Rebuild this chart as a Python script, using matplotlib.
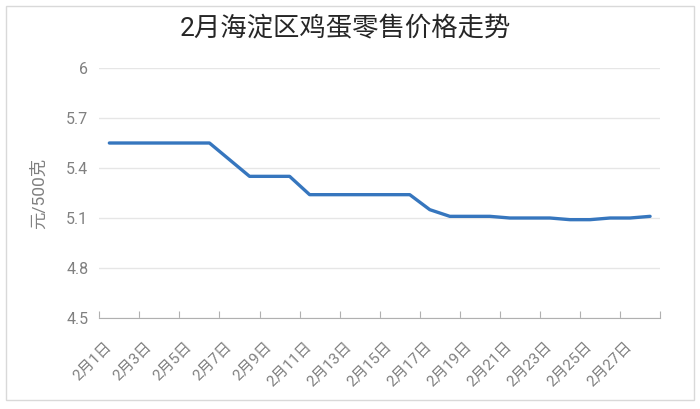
import numpy as np
import matplotlib.pyplot as plt
from matplotlib.patches import Rectangle

plt.rcParams['font.family'] = ['Roboto', 'Noto Sans CJK SC', 'DejaVu Sans']

# daily retail price of eggs, yuan per 500 g, Feb 1..28
days = [f"2月{d}日" for d in range(1, 29)]
prices = [5.55, 5.55, 5.55, 5.55, 5.55, 5.55, 5.45, 5.35, 5.35, 5.35,
          5.24, 5.24, 5.24, 5.24, 5.24, 5.24, 5.15, 5.11, 5.11, 5.11,
          5.10, 5.10, 5.10, 5.09, 5.09, 5.10, 5.10, 5.11]
yticks = [4.5, 4.8, 5.1, 5.4, 5.7, 6]
ytick_labels = ['4.5', '4.8', '5.1', '5.4', '5.7', '6']

title = "2月海淀区鸡蛋零售价格走势"
ylabel = "元/500克"

gray = '#808080'
line_color = '#3676be'

fig = plt.figure(figsize=(7, 4.09), dpi=100)
ax = fig.add_axes([0.1419, 0.2225, 0.8011, 0.6112])

x = np.arange(len(days))
ax.plot(x, prices, color=line_color, lw=2.4, solid_capstyle='round',
        solid_joinstyle='round', zorder=3)

ax.set_xlim(-0.5, len(days) - 0.5)
ax.set_ylim(4.5, 6)
ax.set_yticks(yticks)
ax.set_yticklabels(ytick_labels)
ax.grid(axis='y', color='#e6e6e6', lw=1)
ax.set_axisbelow(True)

# ticks sit on the category boundaries, labels every other category
ax.set_xticks(np.arange(-0.5, len(days), 2))
ax.set_xticklabels([])
ax.set_xticks(x[::2], minor=True)
ax.set_xticklabels(days[::2], minor=True, rotation=45, ha='right', va='center',
                   rotation_mode='anchor', color=gray, fontsize=11)
ax.tick_params(axis='x', which='major', direction='in', length=5, color='#b0b0b0')
ax.tick_params(axis='x', which='minor', length=0, pad=19)
ax.tick_params(axis='y', length=0, pad=8, labelcolor=gray, labelsize=11.5)

for s in ['top', 'right', 'left']:
    ax.spines[s].set_visible(False)
ax.spines['bottom'].set_color('#b0b0b0')

ax.set_ylabel(ylabel, color=gray, fontsize=12.5, labelpad=14)
fig.text(0.494, 0.93, title, ha='center', va='center', fontsize=19, color='#262626')

fig.patches.append(Rectangle((0.0086, 0.022), 0.983, 0.963, transform=fig.transFigure,
                             fill=False, edgecolor='#d9d9d9', lw=1))

fig.savefig('out.png', dpi=100)
